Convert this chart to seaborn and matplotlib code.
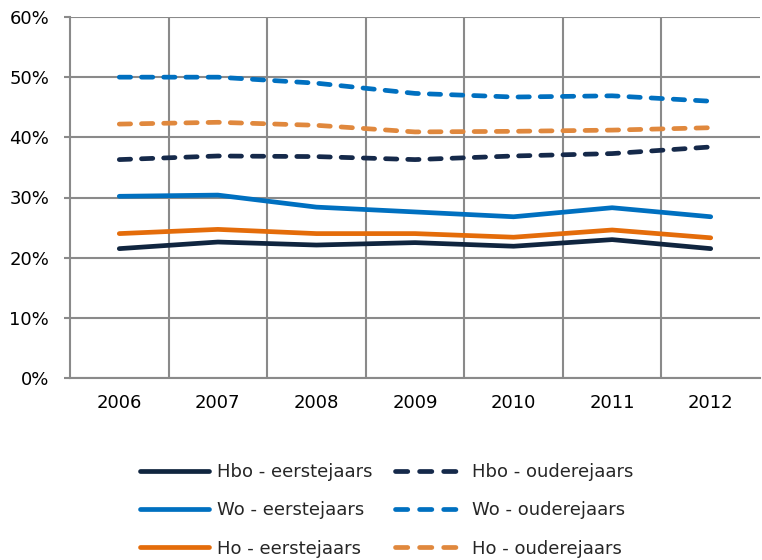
import matplotlib
matplotlib.use("Agg")
import matplotlib.pyplot as plt
import seaborn as sns
import pandas as pd
import numpy as np
from matplotlib.ticker import FuncFormatter, FixedLocator
from matplotlib.lines import Line2D

years = ["2006", "2007", "2008", "2009", "2010", "2011", "2012"]
hbo_eerste = [21.5, 22.6, 22.1, 22.5, 21.9, 23.0, 21.5]
hbo_ouder = [36.3, 36.9, 36.8, 36.3, 36.9, 37.3, 38.4]
wo_eerste = [30.2, 30.4, 28.4, 27.6, 26.8, 28.3, 26.8]
wo_ouder = [50.0, 50.0, 49.0, 47.3, 46.7, 46.9, 46.0]
ho_eerste = [24.0, 24.7, 24.0, 24.0, 23.4, 24.6, 23.3]
ho_ouder = [42.2, 42.5, 42.0, 40.9, 41.0, 41.2, 41.6]

series = [
    ("Hbo - eerstejaars", hbo_eerste, "#10253f", False),
    ("Wo - eerstejaars", wo_eerste, "#0070c0", False),
    ("Ho - eerstejaars", ho_eerste, "#e46c0a", False),
    ("Hbo - ouderejaars", hbo_ouder, "#15294a", True),
    ("Wo - ouderejaars", wo_ouder, "#0070c0", True),
    ("Ho - ouderejaars", ho_ouder, "#e0883d", True),
]

sns.set_style("white")
plt.rcParams["font.family"] = ["DejaVu Sans"]

fig = plt.figure(figsize=(7.62, 5.6), dpi=100)
ax = fig.add_axes([70 / 762, 1 - 378 / 560, 690 / 762, (378 - 17) / 560])

LW = 3.4
pos = np.arange(len(years))
handles = []
for name, vals, color, dashed in series:
    df = pd.DataFrame({"x": pos, "y": vals})
    sns.lineplot(data=df, x="x", y="y", ax=ax, color=color, linewidth=LW,
                 label=name, legend=False)
    ln = ax.lines[-1]
    ln.set_solid_capstyle("round")
    ln.set_solid_joinstyle("round")
    if dashed:
        ln.set_dashes((2.4, 2.3))
        ln.set_dash_capstyle("round")
        h = Line2D([], [], color=color, linewidth=LW, dashes=(2.6, 2.5),
                   dash_capstyle="round")
    else:
        h = Line2D([], [], color=color, linewidth=LW, solid_capstyle="round")
    handles.append(h)

ax.set_xlim(-0.5, 6.5)
ax.set_ylim(0, 60)
ax.set_yticks(np.arange(0, 61, 10))
ax.yaxis.set_major_formatter(FuncFormatter(lambda v, p: f"{int(v)}%"))
ax.set_xticks(pos)
ax.set_xticklabels(years)
ax.xaxis.set_minor_locator(FixedLocator(np.arange(0.5, 6.5, 1.0)))
ax.set_xlabel("")
ax.set_ylabel("")

gc = "#8a8a8a"
ax.grid(True, which="major", axis="y", color=gc, linewidth=1.5)
ax.grid(True, which="minor", axis="x", color=gc, linewidth=1.5)
ax.grid(False, which="major", axis="x")
ax.set_axisbelow(True)
for s in ["top", "right"]:
    ax.spines[s].set_visible(False)
for s in ["left", "bottom"]:
    ax.spines[s].set_color(gc)
    ax.spines[s].set_linewidth(1.5)
ax.tick_params(axis="y", which="major", length=4.5, color=gc, width=1.5,
               labelsize=13, labelcolor="#000000", pad=10.5, left=True)
ax.tick_params(axis="x", which="major", length=0, labelsize=13,
               labelcolor="#000000", pad=11.5)
ax.tick_params(axis="x", which="minor", length=0)

leg = fig.legend(handles=handles, labels=[s[0] for s in series], ncol=2,
                 loc="upper left", bbox_to_anchor=(140 / 762, 1 - 463 / 560),
                 frameon=False, fontsize=13, handlelength=3.8,
                 handletextpad=0.45, columnspacing=1.25, labelspacing=1.13,
                 borderaxespad=0, borderpad=0)

fig.savefig("out.png", dpi=100)
